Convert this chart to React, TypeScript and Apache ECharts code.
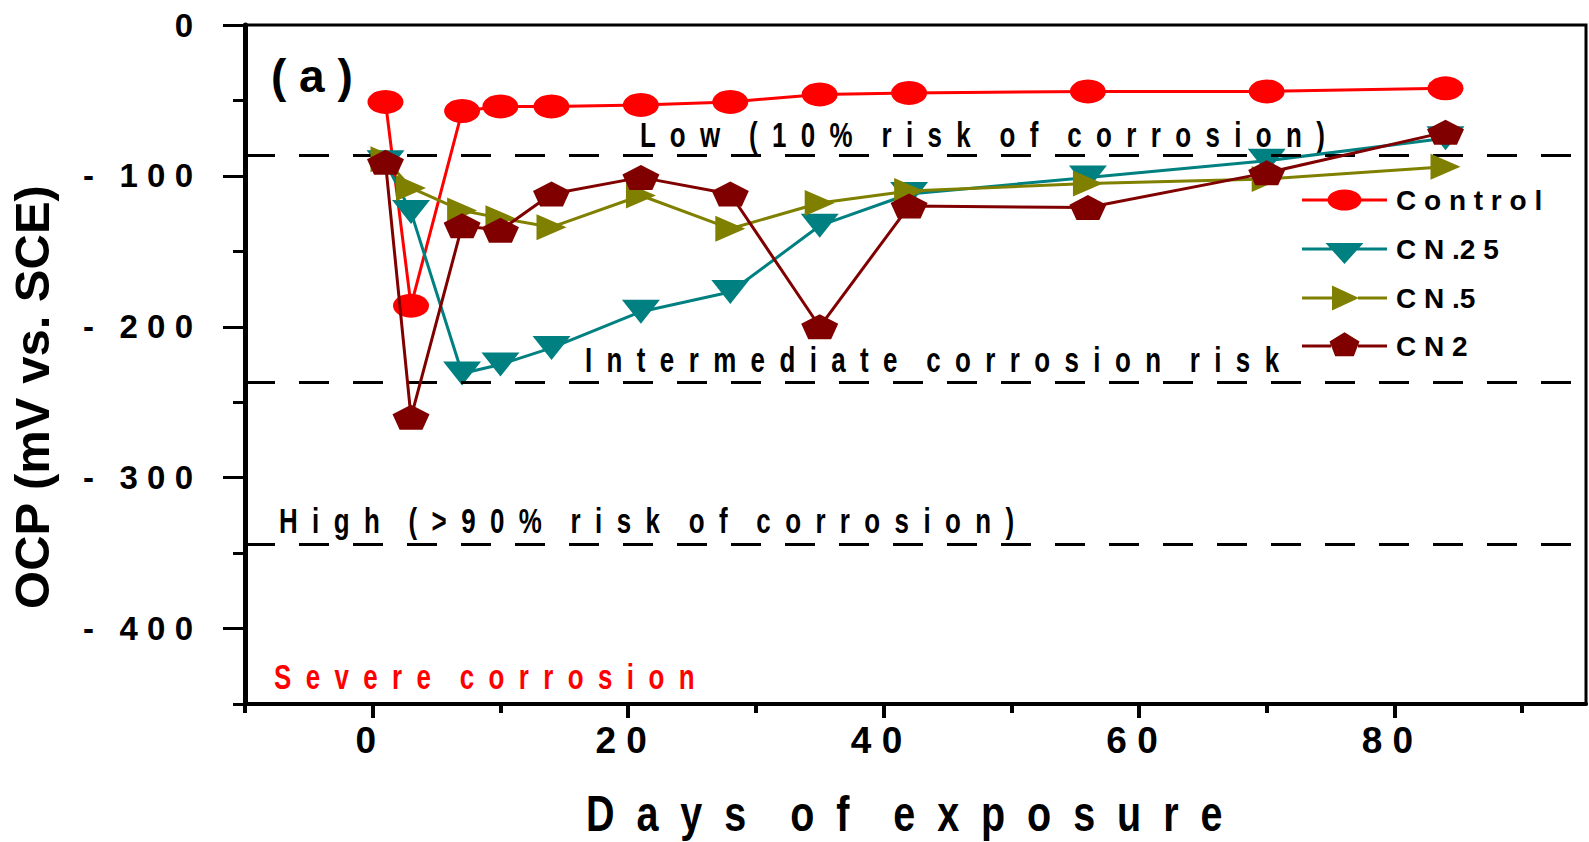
import React, { useEffect, useRef } from "react";
import * as echarts from "echarts";

// ---- data ----
const DAYS = [1, 3, 7, 10, 14, 21, 28, 35, 42, 56, 70, 84];
const CONTROL = [-51, -186, -57, -54, -54, -53, -51, -46, -45, -44, -44, -42];
const CN025 = [-91, -124, -231, -225, -214, -190, -177, -133, -112, -101, -90, -75];
const CN05 = [-89, -108, -123, -128, -134, -113, -135, -118, -110, -105, -102, -94];
const CN2 = [-91, -260, -133, -136, -112, -101, -112, -200, -120, -121, -98, -71];

const SERIES_NAMES = ["Control", "CN.25", "CN.5", "CN2"];
const LEGEND_LABELS = ["C o n t r o l", "C N .2 5", "C N .5", "C N 2"];
const SERIES_VALUES = [CONTROL, CN025, CN05, CN2];
const SERIES_COLORS = ["#ff0000", "#008080", "#808000", "#800000"];

const X_MAJOR = [0, 20, 40, 60, 80];
const X_MINOR = [-10, 10, 30, 50, 70, 90];
const Y_MAJOR = [0, -100, -200, -300, -400];
const Y_MINOR = [-50, -150, -250, -350, -450];

const THRESHOLDS = [-86, -237, -344];
const ZONE_TEXTS = [
  "Low (10% risk of corrosion)",
  "Intermediate corrosion risk",
  "High (>90% risk of corrosion)",
  "Severe corrosion",
];
const X_TITLE = "Days of exposure";
const Y_TITLE = "OCP (mV vs. SCE)";
const PANEL_TAG = "( a )";

const SANS = "'Liberation Sans', Arial, Helvetica, sans-serif";

const PENTAGON = "path://M50,0 L97.55,34.55 L79.39,90.45 L20.61,90.45 L2.45,34.55 Z";
const SYMBOLS = ["circle", "triangle", "triangle", PENTAGON];
const SYMBOL_SIZES: any[] = [[36, 24], [38, 24], [26, 30], [37, 25]];
const SYMBOL_ROTATE = [0, 180, -90, 0];

// legend icons: line segments + marker, in an 85 x 30 box
const LEGEND_ICONS = [
  "path://M42.5,0 M0,13.5 L27,13.5 L27,16.5 L0,16.5 Z M58,13.5 L85,13.5 L85,16.5 L58,16.5 Z M25.5,15 A17,10.5 0 1,1 59.5,15 A17,10.5 0 1,1 25.5,15 Z M42.5,30",
  "path://M42.5,0 M0,13.5 L30,13.5 L30,16.5 L0,16.5 Z M55,13.5 L85,13.5 L85,16.5 L55,16.5 Z M23.5,9 L61.5,9 L42.5,30 Z",
  "path://M42.5,0 M0,13.5 L31,13.5 L31,16.5 L0,16.5 Z M56,13.5 L85,13.5 L85,16.5 L56,16.5 Z M30,2.5 L57,15 L30,27.5 Z M42.5,30",
  "path://M42.5,1.3 L57.5,10.5 L51.8,25.3 L33.2,25.3 L27.5,10.5 Z M0,13.5 L29,13.5 L29,16.5 L0,16.5 Z M56,13.5 L85,13.5 L85,16.5 L56,16.5 Z M42.5,28.7",
];

const LETTER_SEP = " \u00A0";
const WORD_SEP = " \u00A0 \u00A0";
const wide = (s: string) => s.split(" ").map((w) => w.split("").join(LETTER_SEP)).join(WORD_SEP);

export default function App() {
  const ref = useRef<HTMLDivElement>(null);
  useEffect(() => {
    const chart = echarts.init(ref.current!, null, { renderer: "svg" });
    const series: any[] = SERIES_NAMES.map((name, i) => ({
      name,
      type: "line",
      data: DAYS.map((d, j) => [d, SERIES_VALUES[i][j]]),
      symbol: SYMBOLS[i],
      symbolSize: SYMBOL_SIZES[i],
      symbolRotate: SYMBOL_ROTATE[i],
      showAllSymbol: true,
      lineStyle: { color: SERIES_COLORS[i], width: 3 },
      itemStyle: { color: SERIES_COLORS[i] },
      z: 3 + i,
    }));
    series.unshift({
      name: "thresholds",
      type: "line",
      data: [],
      z: 2,
      markLine: {
        silent: true,
        symbol: "none",
        label: { show: false },
        lineStyle: { color: "#000", type: [30, 24], width: 3 },
        data: THRESHOLDS.map((v) => ({ yAxis: v })),
      },
    });

    const zoneText = (text: string, x: number, y: number, color = "#000") => ({
      type: "text",
      x,
      y,
      scaleX: 0.72,
      style: { text: wide(text), font: `bold 36px ${SANS}`, fill: color, textAlign: "left", textVerticalAlign: "middle" },
    });

    chart.setOption({
      animation: false,
      backgroundColor: "#fff",
      grid: {
        left: 245,
        right: 3,
        top: 25,
        bottom: 138,
        show: true,
        borderColor: "#000",
        borderWidth: 3,
        backgroundColor: "transparent",
      },
      xAxis: [
        {
          type: "value",
          min: -10,
          max: 95,
          position: "bottom",
          splitLine: { show: false },
          axisLine: { show: true, onZero: false, lineStyle: { color: "#000", width: 4 } },
          axisTick: { show: true, customValues: X_MAJOR, length: 14, lineStyle: { color: "#000", width: 4 } },
          axisLabel: {
            show: true,
            customValues: X_MAJOR,
            formatter: (v: number) => String(v).split("").join(" "),
            fontSize: 37,
            fontWeight: "bold",
            fontFamily: SANS,
            color: "#000",
            margin: 18,
            padding: [0, 14, 0, 0],
          },
        },
        {
          type: "value",
          min: -10,
          max: 95,
          position: "bottom",
          splitLine: { show: false },
          axisLine: { show: false, onZero: false },
          axisTick: { show: true, customValues: X_MINOR, length: 9, lineStyle: { color: "#000", width: 4 } },
          axisLabel: { show: false },
        },
      ],
      yAxis: [
        {
          type: "value",
          min: -450,
          max: 0,
          position: "left",
          splitLine: { show: false },
          axisLine: { show: true, onZero: false, lineStyle: { color: "#000", width: 5 } },
          axisTick: { show: true, customValues: Y_MAJOR, length: 22, lineStyle: { color: "#000", width: 3 } },
          axisLabel: {
            show: true,
            customValues: Y_MAJOR,
            formatter: (v: number) => (v === 0 ? "0" : "-\u2002 " + String(-v).split("").join(" ")),
            fontSize: 33,
            fontWeight: "bold",
            fontFamily: SANS,
            color: "#000",
            margin: 52,
          },
        },
        {
          type: "value",
          min: -450,
          max: 0,
          position: "left",
          splitLine: { show: false },
          axisLine: { show: false, onZero: false },
          axisTick: { show: true, customValues: Y_MINOR, length: 12, lineStyle: { color: "#000", width: 3 } },
          axisLabel: { show: false },
        },
      ],
      legend: {
        orient: "vertical",
        left: 1302,
        top: 185,
        padding: 0,
        itemWidth: 85,
        itemHeight: 30,
        itemGap: 19,
        symbolKeepAspect: true,
        data: SERIES_NAMES.map((name, i) => ({ name, icon: LEGEND_ICONS[i] })),
        formatter: (name: string) => LEGEND_LABELS[SERIES_NAMES.indexOf(name)],
        textStyle: { fontSize: 28, fontWeight: "bold", fontFamily: SANS, color: "#000", padding: [0, 0, 0, 4] },
      },
      graphic: [
        {
          type: "text",
          x: 32,
          y: 397,
          rotation: Math.PI / 2,
          style: { text: Y_TITLE, font: `bold 49px ${SANS}`, fill: "#000", textAlign: "center", textVerticalAlign: "middle" },
        },
        {
          type: "text",
          x: 586,
          y: 814,
          scaleX: 0.79,
          style: { text: wide(X_TITLE), font: `bold 50px ${SANS}`, lineHeight: 50, fill: "#000", textAlign: "left", textVerticalAlign: "middle" },
        },
        {
          type: "text",
          x: 271,
          y: 76,
          style: { text: PANEL_TAG, font: `bold 46px ${SANS}`, fill: "#000", textAlign: "left", textVerticalAlign: "middle" },
        },
        zoneText(ZONE_TEXTS[0], 640, 135),
        zoneText(ZONE_TEXTS[1], 585, 360),
        zoneText(ZONE_TEXTS[2], 279, 521),
        zoneText(ZONE_TEXTS[3], 274, 677, "#ff0000"),
      ],
      series,
    });
    return () => chart.dispose();
  }, []);
  return <div ref={ref} style={{ position: "fixed", left: 0, top: 0, width: 1589, height: 842, background: "#fff" }} />;
}
